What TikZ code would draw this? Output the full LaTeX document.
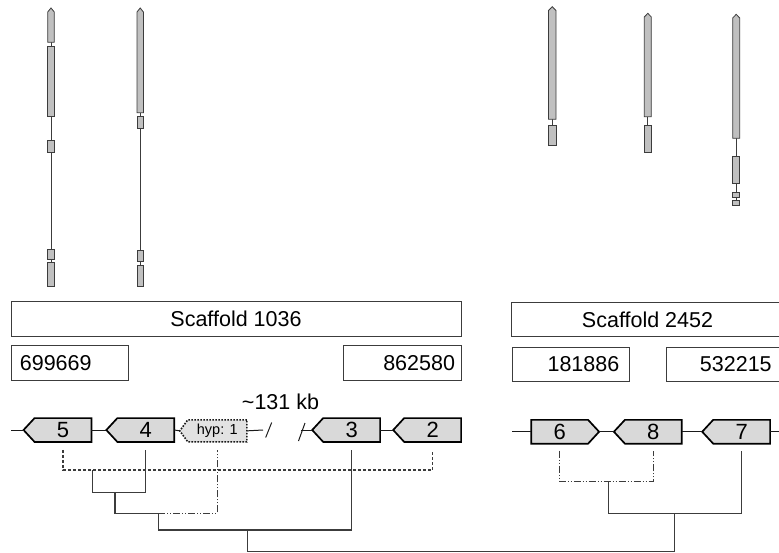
\documentclass[tikz,border=0pt]{standalone}
\usepackage{fontspec}
\setmainfont{Liberation Sans}
\usetikzlibrary{backgrounds}
\definecolor{exongray}{HTML}{C0C0C0}
\definecolor{genegray}{HTML}{D9D9D9}
\definecolor{hypgray}{HTML}{E2E2E2}
\definecolor{ink}{HTML}{1A1A1A}
\definecolor{frame}{HTML}{3C3C3C}

\tikzset{
  exon/.style={draw=frame, fill=exongray, line width=0.8pt},
  intron/.style={draw=frame, line width=0.8pt},
  scafbox/.style={draw=frame, line width=1pt, inner sep=0pt, font=\fontsize{21.5}{25}\selectfont},
  genebody/.style={minimum width=56.5pt, minimum height=23.4pt, inner sep=0pt, font=\fontsize{22}{26}\selectfont},
  geneline/.style={draw=black, fill=genegray, line width=1.7pt, line join=miter},
  hypline/.style={draw=ink, fill=hypgray, line width=1.6pt, dash pattern=on 1.6pt off 1.4pt},
  backbone/.style={draw=ink, line width=1pt},
  tree/.style={draw=frame, line width=1.1pt},
  leafgap/.style={shorten >=8pt},
  dashdotdot/.style={dash pattern=on 7pt off 2pt on 1pt off 2pt on 1pt off 2pt}
}

\begin{document}
\begin{tikzpicture}[x=1pt, y=-1pt]
  \clip (0,0) rectangle (779,552);

  % gene models
  \draw[intron] (51,42) -- (51,262);
  \path[exon] (47.7,12) -- (51,8) -- (54.3,12) -- (54.3,42.3) -- (47.7,42.3) -- cycle;
  \foreach \a/\b in {46/116, 140/152, 249/259, 262/286}
    \path[exon] (47.7,\a) rectangle (54.3,\b);

  \draw[intron] (140.2,112.7) -- (140.2,265);
  \path[exon] (137,12) -- (140.2,8) -- (143.4,12) -- (143.4,112.7) -- (137,112.7) -- cycle;
  \foreach \a/\b in {116/128, 250/261, 265/286}
    \path[exon] (137,\a) rectangle (143.4,\b);

  \draw[intron] (552.2,119.3) -- (552.2,125.3);
  \path[exon] (548.5,10.5) -- (552.2,6.7) -- (556,10.5) -- (556,119.3) -- (548.5,119.3) -- cycle;
  \path[exon] (548.5,125.3) rectangle (556,145.7);

  \draw[intron] (647.8,116.7) -- (647.8,125);
  \path[exon] (644.3,17) -- (647.8,13.3) -- (651.3,17) -- (651.3,116.7) -- (644.3,116.7) -- cycle;
  \path[exon] (644.3,125) rectangle (651.3,152.3);

  \draw[intron] (736.2,138.3) -- (736.2,200.3);
  \path[exon] (732.7,18) -- (736.2,14.3) -- (739.7,18) -- (739.7,138.3) -- (732.7,138.3) -- cycle;
  \foreach \a/\b in {156.7/183.3, 192.7/197.7, 200.3/205}
    \path[exon] (732.7,\a) rectangle (739.7,\b);

  % scaffolds
  \node[scafbox, minimum width=450pt, minimum height=35.7pt] (s1036) at (236,318.85) {Scaffold 1036};
  \node[scafbox, minimum width=271.6pt, minimum height=34.4pt] (s2452) at (647.5,319.5) {Scaffold 2452};
  \node[scafbox, minimum width=117.7pt, minimum height=35.7pt, text width=100pt, align=left] (n699669) at (69.85,362.85) {699669};
  \node[scafbox, minimum width=117.7pt, minimum height=35.7pt, text width=105.7pt, align=right] (n862580) at (402.15,362.85) {862580};
  \node[scafbox, minimum width=116.7pt, minimum height=34.4pt, text width=97.3pt, align=right] (n181886) at (570.65,364.5) {181886};
  \node[scafbox, minimum width=117.3pt, minimum height=34.4pt, text width=92.7pt, align=right] (n532215) at (725.35,364.5) {532215};

  % genes
  \node[genebody] (g5) at (63,430) {5};
  \node[genebody] (g4) at (145.8,430) {4};
  \node[genebody, minimum width=58.7pt, minimum height=21.7pt, font=\fontsize{14.5}{17}\selectfont] (ghyp) at (217.35,430.85) {hyp: 1};
  \node[genebody] (g3) at (351.65,430) {3};
  \node[genebody] (g2) at (432.65,430) {2};
  \node[genebody] (g6) at (559.65,431.75) {6};
  \node[genebody] (g8) at (653.35,431.75) {8};
  \node[genebody] (g7) at (741.65,431.75) {7};

  \begin{scope}[on background layer]
    \foreach \g in {g5,g4,g3,g2,g8,g7}
      \path[geneline] (\g.north east) -- (\g.north west) -- ([xshift=-11pt]\g.west) -- (\g.south west) -- (\g.south east) -- cycle;
    \path[geneline] (g6.north west) -- (g6.north east) -- ([xshift=11pt]g6.east) -- (g6.south east) -- (g6.south west) -- cycle;
    \path[hypline] (ghyp.north east) -- (ghyp.north west) -- ([xshift=-8pt]ghyp.west) -- (ghyp.south west) -- (ghyp.south east) -- cycle;
  \end{scope}

  \node[font=\fontsize{21.5}{25}\selectfont] (gaplabel) at (280.5,401.5) {\textasciitilde131 kb};

  % backbone
  \coordinate (lstart) at (11,430);
  \coordinate (gapL) at (263,430);
  \coordinate (gapR) at (301,430);
  \coordinate (rstart) at (512.3,431.75);
  \coordinate (rend) at (779,431.75);
  \draw[backbone] (lstart) -- ([xshift=-11pt]g5.west);
  \draw[backbone] (g5.east) -- ([xshift=-11pt]g4.west);
  \draw[backbone] (g4.east) -- ([xshift=-8pt]ghyp.west);
  \draw[backbone] (ghyp.east) -- (gapL);
  \draw[backbone] (gapR) -- ([xshift=-11pt]g3.west);
  \draw[backbone] (g3.east) -- ([xshift=-11pt]g2.west);
  \draw[backbone] (265.7,437.5) -- (271.7,422.5);
  \draw[backbone] (298.5,441) -- (305,423);
  \draw[backbone] (rstart) -- (g6.west);
  \draw[backbone] ([xshift=11pt]g6.east) -- ([xshift=-11pt]g8.west);
  \draw[backbone] (g8.east) -- ([xshift=-11pt]g7.west);
  \draw[backbone] (g7.east) -- (rend);

  % tree
  \coordinate (j52) at (92.3,470);
  \coordinate (j524) at (115,492.3);
  \coordinate (jhyp) at (158.3,513.3);
  \coordinate (jroot) at (247.3,530);
  \coordinate (j68) at (608.3,481.7);
  \coordinate (j687) at (674.3,513.3);
  \coordinate (jtop) at (674.3,551.5);

  \draw[tree, dash pattern=on 3pt off 2pt, shorten <=8pt, shorten >=8pt] (g5.south) |- (j52) -| (g2.south);
  \draw[tree, leafgap] (j52) |- (j524) -| (g4.south);
  \draw[tree] (j524) |- (jhyp);
  \draw[tree, dashdotdot, leafgap] (jhyp) -| (ghyp.south);
  \draw[tree, leafgap] (jhyp) |- (jroot) -| (g3.south);
  \draw[tree] (jroot) |- (jtop);
  \draw[tree, dashdotdot, shorten <=7pt, shorten >=7pt] (g6.south) |- (j68) -| (g8.south);
  \draw[tree, shorten >=7pt] (j68) |- (j687) -| (g7.south);
  \draw[tree] (j687) -- (jtop);
\end{tikzpicture}
\end{document}
